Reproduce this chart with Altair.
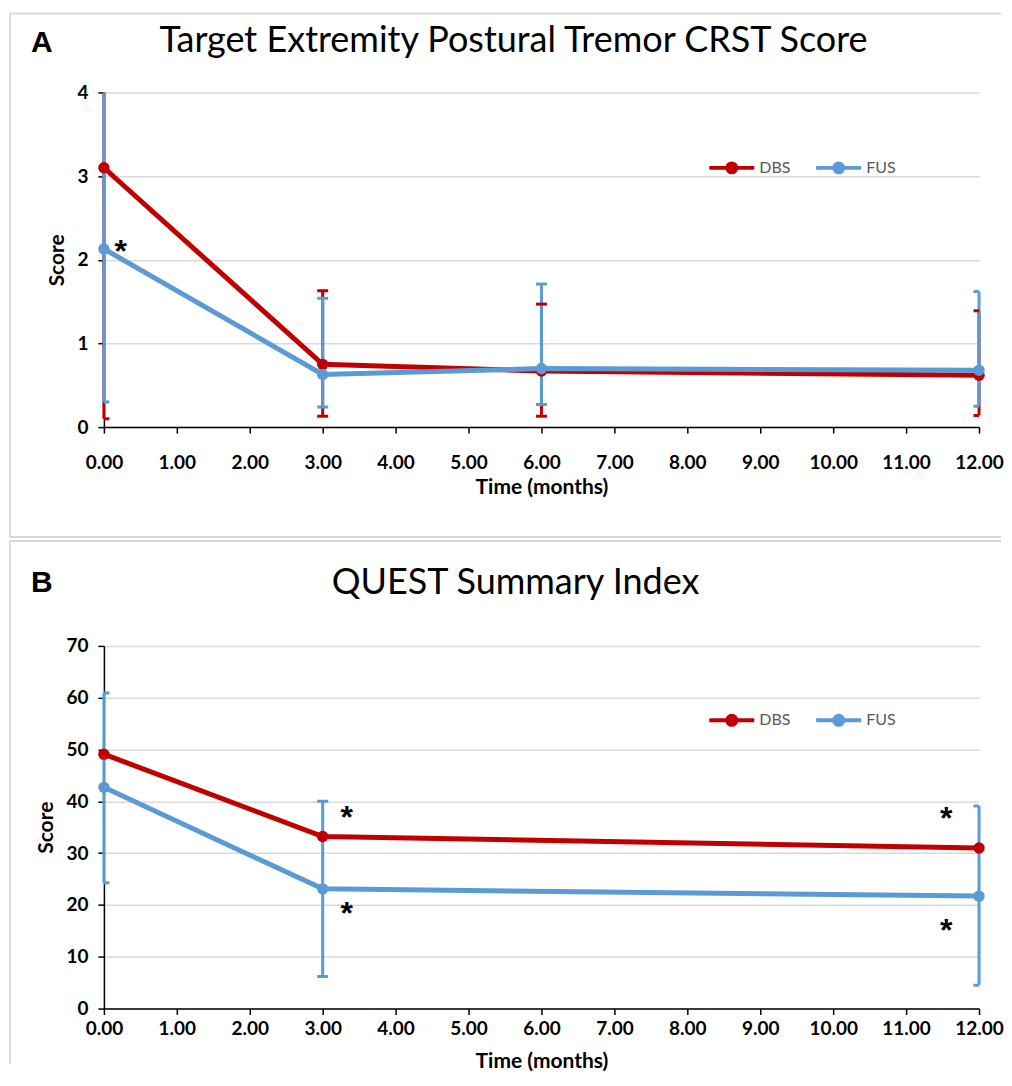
import altair as alt
import pandas as pd

# ---------------- data ----------------
groups = ["DBS", "FUS"]
colors = ["#C00000", "#5B9BD5"]
x_ticks = list(range(13))

# Panel A: Target Extremity Postural Tremor CRST Score
months_a = [0, 3, 6, 12]
crst_dbs = [3.10, 0.75, 0.67, 0.62]
crst_fus = [2.13, 0.63, 0.70, 0.68]
crst_dbs_lo = [0.10, 0.13, 0.13, 0.14]
crst_dbs_hi = [6.10, 1.63, 1.47, 1.39]
crst_fus_lo = [0.30, 0.24, 0.27, 0.25]
crst_fus_hi = [4.30, 1.54, 1.71, 1.62]
star_a_x = [0.23]
star_a_y = [2.18]

# Panel B: QUEST Summary Index
months_b = [0, 3, 12]
quest_dbs = [49.1, 33.2, 31.0]
quest_fus = [42.7, 23.1, 21.7]
quest_fus_lo = [24.3, 6.2, 4.5]
quest_fus_hi = [60.9, 40.0, 39.1]
star_b_x = [3.33, 3.33, 11.55, 11.55]
star_b_y = [38.2, 19.6, 38.0, 16.4]

FONT = "Lato"
W = 876

# line with a (stroked) dot in the middle, in the [-1, 1] unit box
LEGEND_PATH = ("M-1,0L1,0"
               "M0.2,0A0.2,0.2,0,1,1,-0.2,0A0.2,0.2,0,1,1,0.2,0"
               "M0.09,0A0.09,0.09,0,1,1,-0.09,0A0.09,0.09,0,1,1,0.09,0")


def long_lines(months, dbs, fus):
    rows = []
    for g, vals in zip(groups, [dbs, fus]):
        for m, v in zip(months, vals):
            rows.append({"month": m, "group": g, "score": v})
    return pd.DataFrame(rows)


def err_table(entries):
    rows = []
    for g, months, lo, hi in entries:
        for m, l, h in zip(months, lo, hi):
            rows.append({"month": m, "group": g, "lo": l, "hi": h})
    return pd.DataFrame(rows)


def cap_table(entries):
    rows = []
    for g, months, lo, hi in entries:
        for m, l, h in zip(months, lo, hi):
            rows.append({"month": m, "group": g, "val": l})
            rows.append({"month": m, "group": g, "val": h})
    return pd.DataFrame(rows)


def one():
    return pd.DataFrame({"k": [0]})


def panel(lines_df, err_df, caps_df, star_df, ymax, ystep, height,
          letter, title, title_x, title_y, letter_y,
          legend_y, xlab_pad, xtitle_pad, frame_top, frame_bottom, bottom_edge):
    xenc = alt.X("month:Q",
                 scale=alt.Scale(domain=[0, 12], nice=False, zero=False),
                 axis=alt.Axis(values=x_ticks, format=".2f",
                               title="Time (months)", grid=False,
                               labelFlush=False,
                               labelPadding=xlab_pad, titlePadding=xtitle_pad))
    yaxis = alt.Axis(values=list(range(0, ymax + 1, ystep)), title="Score",
                     format="d", grid=True, labelPadding=10, titlePadding=9)
    yscale = alt.Scale(domain=[0, ymax], nice=False)
    cscale = alt.Scale(domain=groups, range=colors)

    legend = alt.Legend(
        orient="none", legendX=604, legendY=legend_y, direction="horizontal",
        title=None, symbolType=LEGEND_PATH, symbolSize=2025,
        symbolStrokeWidth=4, labelFontSize=16, labelColor="#595959",
        labelFont=FONT, labelOffset=3, columnPadding=17, padding=0)
    col = alt.Color("group:N", scale=cscale, legend=legend)

    err = alt.Chart(err_df).transform_calculate(
        hi_c=f"min(datum.hi, {ymax})"
    ).mark_rule(strokeWidth=3).encode(
        x=xenc,
        y=alt.Y("lo:Q", scale=yscale, axis=yaxis),
        y2="hi_c:Q",
        color=col)
    caps = alt.Chart(caps_df).transform_filter(
        f"datum.val <= {ymax}"
    ).mark_tick(
        orient="horizontal", size=11, thickness=3, clip=True, opacity=1).encode(
        x=xenc,
        y=alt.Y("val:Q", scale=yscale, axis=yaxis),
        color=col)
    line = alt.Chart(lines_df).mark_line(strokeWidth=5).encode(
        x=xenc,
        y=alt.Y("score:Q", scale=yscale, axis=yaxis),
        color=col)
    pts = alt.Chart(lines_df).mark_circle(size=130, opacity=1).encode(
        x=xenc,
        y=alt.Y("score:Q", scale=yscale, axis=yaxis),
        color=col)
    stars = alt.Chart(star_df).mark_text(
        text="*", fontSize=32, fontWeight="bold", font="Liberation Sans",
        baseline="middle", dy=7, color="black").encode(
        x=alt.X("month:Q", scale=alt.Scale(domain=[0, 12], nice=False)),
        y=alt.Y("score:Q", scale=yscale))

    ttl = alt.Chart(one()).mark_text(
        text=title, fontSize=36, font=FONT, color="black",
        align="center", baseline="alphabetic").encode(
        x=alt.value(title_x), y=alt.value(title_y))
    let = alt.Chart(one()).mark_text(
        text=letter, fontSize=30, font="Liberation Sans", fontWeight="bold",
        color="black", align="left", baseline="alphabetic").encode(
        x=alt.value(-73), y=alt.value(letter_y))

    fc = "#d9d9d9"
    top = alt.Chart(one()).mark_rule(color=fc, strokeWidth=2).encode(
        x=alt.value(-94), x2=alt.value(898), y=alt.value(frame_top))
    left = alt.Chart(one()).mark_rule(color=fc, strokeWidth=2).encode(
        x=alt.value(-94), y=alt.value(frame_top), y2=alt.value(frame_bottom))
    layers = [top, left]
    if bottom_edge:
        layers.append(alt.Chart(one()).mark_rule(color=fc, strokeWidth=2).encode(
            x=alt.value(-94), x2=alt.value(898), y=alt.value(frame_bottom)))
    layers += [err, caps, line, pts, stars, ttl, let]
    return alt.layer(*layers).properties(width=W, height=height)


ent_a = [("DBS", months_a, crst_dbs_lo, crst_dbs_hi),
         ("FUS", months_a, crst_fus_lo, crst_fus_hi)]
ent_b = [("FUS", months_b, quest_fus_lo, quest_fus_hi)]

panel_a = panel(long_lines(months_a, crst_dbs, crst_fus), err_table(ent_a),
                cap_table(ent_a),
                pd.DataFrame({"month": star_a_x, "score": star_a_y}),
                4, 1, 335, "A",
                "Target Extremity Postural Tremor CRST Score", 410, -40, -40,
                51, 20, 4, -79, 445, True)
panel_b = panel(long_lines(months_b, quest_dbs, quest_fus), err_table(ent_b),
                cap_table(ent_b),
                pd.DataFrame({"month": star_b_x, "score": star_b_y}),
                70, 10, 363, "B", "QUEST Summary Index", 412, -52, -54,
                50, 5, 12, -105, 418, False)

chart = alt.vconcat(panel_a, panel_b, spacing=0).resolve_scale(
    color="independent", x="independent", y="independent"
).resolve_legend(color="independent").properties(
    padding={"left": 0, "top": 3, "right": 0, "bottom": 0}
).configure_view(stroke="transparent").configure_axis(
    labelFont=FONT, labelFontWeight="bold", labelFontSize=19,
    labelColor="black", titleFont=FONT, titleFontWeight="bold",
    titleFontSize=21, titleColor="black", domainColor="black",
    domainWidth=1.5, tickColor="black", tickSize=6, tickWidth=1.5,
    gridColor="#d9d9d9", gridWidth=1.5)

chart.save("out.html", embed_options={"renderer": "svg", "actions": False})
